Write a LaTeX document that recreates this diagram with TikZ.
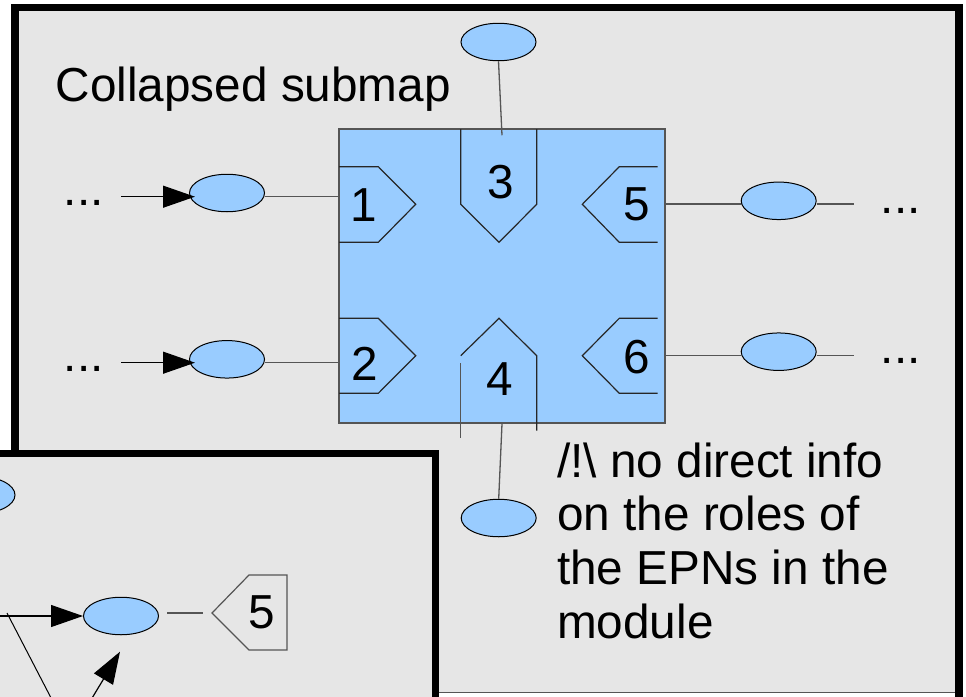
\documentclass[tikz,border=0pt]{standalone}
\usepackage{fontspec}
\setmainfont{Liberation Sans}
\usetikzlibrary{shapes.geometric,arrows.meta,calc}
\definecolor{bggray}{HTML}{E6E6E6}
\definecolor{epnblue}{HTML}{99CCFF}
\definecolor{linegray}{HTML}{555555}
\begin{document}
\begin{tikzpicture}[x=1pt,y=-1pt,
  epn/.style={ellipse,draw=black,line width=1pt,fill=epnblue,minimum width=75pt,minimum height=37.5pt,inner sep=0pt},
  conn/.style={draw=linegray,line width=1.3pt},
  arr/.style={draw=black,line width=1.2pt,-{Triangle[length=32pt,width=22pt]}},
  txt/.style={font=\fontsize{47.7}{54}\selectfont,inner sep=0pt},
  portline/.style={draw=black!85,line width=1.2pt},
  frame/.style={line width=7.5pt,draw=black,line join=miter},
  thinline/.style={draw=black,line width=1pt}
]
\useasboundingbox (0,0) rectangle (966,696);
\clip (0,0) rectangle (966,696);

% outer box
\fill[bggray] (15,7.5) rectangle (959,692);
\draw[frame] (15,720) -- (15,7.5) -- (959,7.5) -- (959,720);
\draw[linegray,line width=0.8pt] (439,692.5) -- (955,692.5);

\node[txt,anchor=base west] (title) at (55.6,101.5) {Collapsed submap};

% submap square
\node[draw=linegray,fill=epnblue,line width=1.5pt,minimum width=326pt,minimum height=294pt,inner sep=0pt] (sq) at (502,276) {};

% ports
\draw[portline] (339,166.7) -- (378.3,166.7) -- (415.7,204.3) -- (378.3,242.3) -- (339,242.3);
\draw[portline] (339,318.3) -- (378.3,318.3) -- (415.7,355.7) -- (378.3,393.3) -- (339,393.3);
\draw[portline] (460.7,129) -- (460.7,204.3) -- (499,242.3) -- (536.7,204.3) -- (536.7,129);
\draw[portline] (460.7,355.7) -- (499,318.3) -- (536.7,355.7) -- (536.7,430.7);
\draw[conn] (460.7,363.3) -- (460.7,438);
\draw[portline] (657.7,166.7) -- (619.3,166.7) -- (582.3,204.3) -- (619.3,242.3) -- (657.7,242.3);
\draw[portline] (657.7,318.3) -- (619.3,318.3) -- (582.3,355.7) -- (619.3,393.3) -- (657.7,393.3);

\node[txt,anchor=base] (p1) at (364,221.7) {1};
\node[txt,anchor=base] (p2) at (364.3,380) {2};
\node[txt,anchor=base] (p3) at (501,198.3) {3};
\node[txt,anchor=base] (p4) at (500,395) {4};
\node[txt,anchor=base] (p5) at (636.7,220) {5};
\node[txt,anchor=base] (p6) at (636.5,373.3) {6};

% EPNs
\node[epn] (eT) at (498.5,42) {};
\node[epn] (eB) at (498.7,518) {};
\node[epn] (eL1) at (227,193) {};
\node[epn] (eL2) at (227,359.3) {};
\node[epn] (eR1) at (778.7,200.8) {};
\node[epn] (eR2) at (778.7,351.7) {};

% left rows
\node[txt,anchor=base west] (dL1) at (63.7,205.2) {...};
\node[txt,anchor=base west] (dL2) at (63.7,371.8) {...};
\coordinate (s1) at (121,196.7);
\coordinate (s2) at (121,362.7);
\draw[conn] (eL1.east |- s1) -- (sq.west |- s1);
\draw[conn] (eL2.east |- s2) -- (sq.west |- s2);
\draw[arr] (s1) -- ($(eL1.west |- s1)+(6,0)$);
\draw[arr] (s2) -- ($(eL2.west |- s2)+(6,0)$);

% right rows
\coordinate (r1) at (854,204);
\coordinate (r2) at (854,355.7);
\draw[conn] (sq.east |- r1) -- (eR1.west |- r1);
\draw[conn] (eR1.east |- r1) -- (r1);
\draw[conn] (sq.east |- r2) -- (eR2.west |- r2);
\draw[conn] (eR2.east |- r2) -- (r2);
\node[txt,anchor=base west] (dR1) at (880.7,213.2) {...};
\node[txt,anchor=base west] (dR2) at (880.7,363.8) {...};

% top and bottom
\draw[conn] (eT.south) -- ($(sq.north)+(0,7)$);
\draw[conn] (sq.south) -- (eB.north);

% note
\node[txt,anchor=base west] (n1) at (557,477) {/!\textbackslash{} no direct info};
\node[txt,anchor=base west] (n2) at (557,530.5) {on the roles of};
\node[txt,anchor=base west] (n3) at (557,584.5) {the EPNs in the};
\node[txt,anchor=base west] (n4) at (557,638) {module};

% inset box
\fill[bggray] (-20,453.5) rectangle (435.5,720);
\draw[frame] (-20,453.5) -- (435.5,453.5) -- (435.5,720);

\node[epn] (iE0) at (-22.5,495) {};
\node[epn] (iE1) at (121,616) {};
\coordinate (ia) at (-10,616);
\draw[arr] (ia) -- (iE1.west);
\coordinate (tag5) at (212,613);
\draw[draw=linegray,line width=1.2pt] (tag5) -- (249,575) -- (287,575) -- (287,650) -- (249,650) -- cycle;
\node[txt,anchor=base] (t5) at (262,628.3) {5};
\draw[conn,shorten <=8pt,shorten >=9pt] (iE1.east |- tag5) -- (tag5);
\coordinate (d1) at (7,613);
\coordinate (d2) at (54.7,705);
\draw[thinline] (d1) -- (d2);
\coordinate (u1) at (88.5,704);
\coordinate (u2) at (120,651.7);
\draw[arr] (u1) -- (u2);
\end{tikzpicture}
\end{document}
